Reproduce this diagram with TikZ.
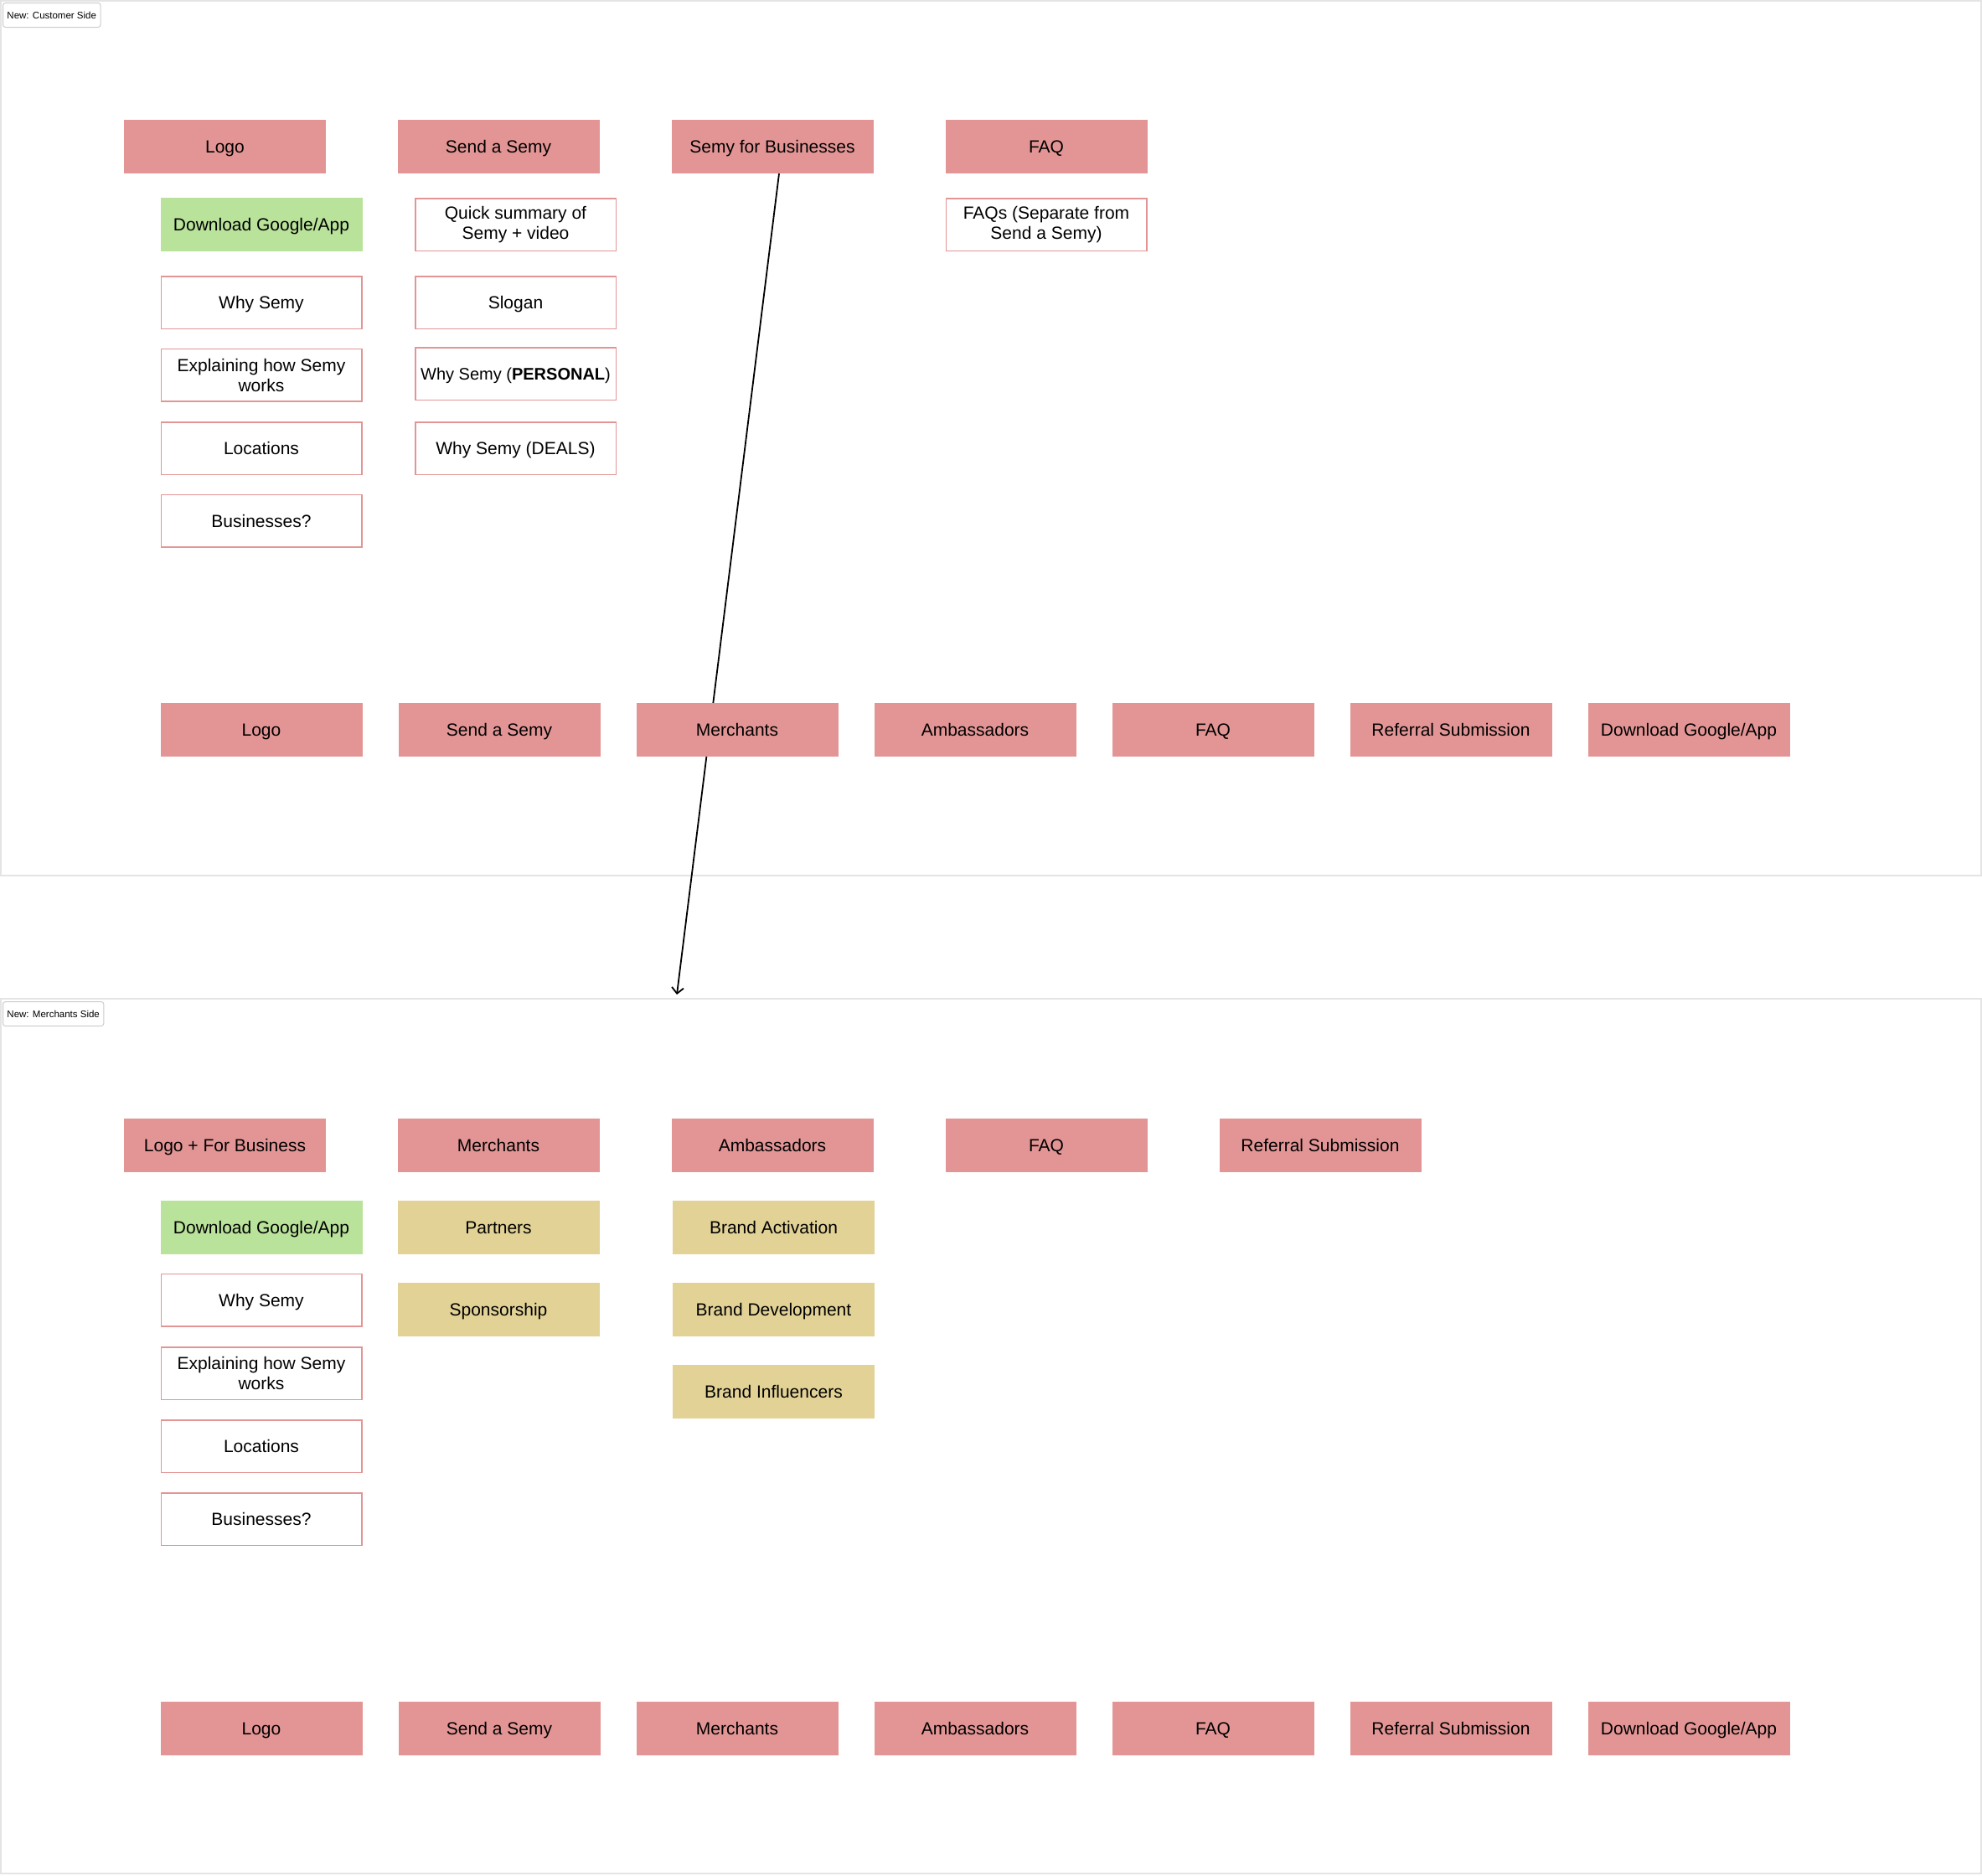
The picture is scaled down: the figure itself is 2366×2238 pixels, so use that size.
\documentclass[tikz,border=0pt]{standalone}
\usepackage{fontspec}
\setmainfont{Liberation Sans}
\usetikzlibrary{arrows.meta}
\definecolor{tabred}{HTML}{E39595}
\definecolor{appgreen}{HTML}{B9E29A}
\definecolor{subtan}{HTML}{E2D296}
\definecolor{framegray}{HTML}{E4E4E4}
\definecolor{taggray}{HTML}{CCCCCC}
\begin{document}
\begin{tikzpicture}[x=1pt, y=-1pt,
    cell/.style={minimum width=241pt, minimum height=64pt, inner sep=0pt,
        align=center, font=\fontsize{21}{24}\selectfont},
    oneline/.style={text height=16pt, text depth=1pt},
    tab/.style={cell, oneline, fill=tabred},
    note/.style={cell, fill=white, draw=tabred, line width=1.5pt,
        minimum width=239.5pt, minimum height=62.5pt},
    item/.style={note, oneline},
    appbox/.style={tab, fill=appgreen},
    subtab/.style={tab, fill=subtan},
    pageframe/.style={draw=framegray, line width=1.5pt},
    sidetag/.style={draw=taggray, fill=white, rounded corners=3pt,
        line width=1pt, anchor=north west, minimum height=29pt,
        inner xsep=5pt, font=\fontsize{11.5}{13}\selectfont}]
    \useasboundingbox (0,0) rectangle (2366,2238);
    % the two pages
    \draw[pageframe] (1,1) rectangle (2365,1045);
    \draw[pageframe] (1,1192) rectangle (2365,2236);
    \node[sidetag] (custtag) at (3,3) {New: Customer Side};
    \node[sidetag] (merchtag) at (3,1195) {New: Merchants Side};

    % Customer side: header
    \node[tab] (c-logo) at (268.5,175) {Logo};
    \node[tab] (c-send) at (595,175) {Send a Semy};
    \node[tab] (c-biz) at (922,175) {Semy for Businesses};
    \node[tab] (c-faq) at (1249,175) {FAQ};
    % link to the merchants page (runs behind the footer)
    \coordinate (drop) at (808,1187);
    \draw[line width=1.8pt, -{Straight Barb[length=7pt,width=14pt]}]
        ([xshift=8pt]c-biz.south) -- (drop);
    % Customer side: sections
    \node[appbox] (c-app) at (312,268) {Download Google/App};
    \node[item] (c-why) at (312,361) {Why Semy};
    \node[note] (c-how) at (312,447.5) {Explaining how Semy\\works};
    \node[item] (c-loc) at (312,535) {Locations};
    \node[item] (c-bus) at (312,621.5) {Businesses?};
    \node[note] (c-quick) at (615.5,268) {Quick summary of\\Semy + video};
    \node[item] (c-slogan) at (615.5,361) {Slogan};
    \node[item, font=\fontsize{20}{24}\selectfont] (c-personal) at (615.5,446)
        {Why Semy (\textbf{PERSONAL})};
    \node[item] (c-deals) at (615.5,535) {Why Semy (DEALS)};
    \node[note] (c-faqs) at (1249,268) {FAQs (Separate from\\Send a Semy)};
    % Customer side: footer
    \foreach \lbl [count=\i from 0] in {Logo, Send a Semy, Merchants,
        Ambassadors, FAQ, Referral Submission, Download Google/App}
        \node[tab] (c-foot\i) at (312+284*\i, 871) {\lbl};

    % Merchants side: header
    \node[tab] (m-logo) at (268.5,1367) {Logo + For Business};
    \node[tab] (m-merch) at (595,1367) {Merchants};
    \node[tab] (m-amb) at (922,1367) {Ambassadors};
    \node[tab] (m-faq) at (1249,1367) {FAQ};
    \node[tab] (m-ref) at (1576,1367) {Referral Submission};
    % Merchants side: sections
    \node[appbox] (m-app) at (312,1465) {Download Google/App};
    \node[item] (m-why) at (312,1551.5) {Why Semy};
    \node[note] (m-how) at (312,1639) {Explaining how Semy\\works};
    \node[item] (m-loc) at (312,1726) {Locations};
    \node[item] (m-bus) at (312,1813) {Businesses?};
    \node[subtab] (m-partners) at (595,1465) {Partners};
    \node[subtab] (m-sponsor) at (595,1563) {Sponsorship};
    \node[subtab] (m-activation) at (923.5,1465) {Brand Activation};
    \node[subtab] (m-development) at (923.5,1563) {Brand Development};
    \node[subtab] (m-influencers) at (923.5,1661) {Brand Influencers};
    % Merchants side: footer
    \foreach \lbl [count=\i from 0] in {Logo, Send a Semy, Merchants,
        Ambassadors, FAQ, Referral Submission, Download Google/App}
        \node[tab] (m-foot\i) at (312+284*\i, 2063) {\lbl};
\end{tikzpicture}
\end{document}
